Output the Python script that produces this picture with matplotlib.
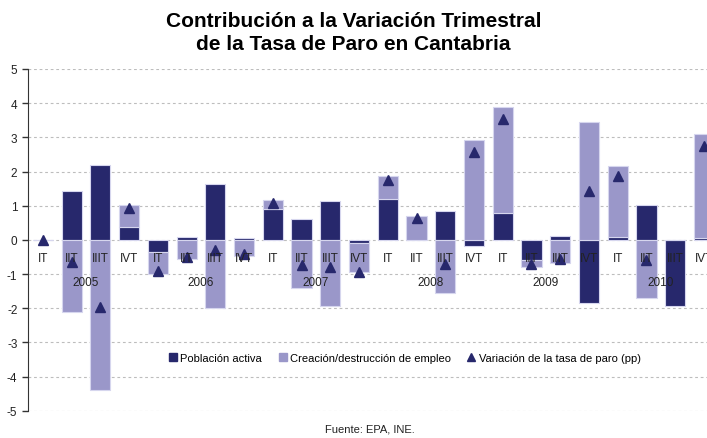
import numpy as np
import matplotlib.pyplot as plt
from matplotlib.patches import Patch
from matplotlib.lines import Line2D

plt.rcParams['font.family'] = ['Liberation Sans', 'DejaVu Sans']
plt.rcParams['axes.unicode_minus'] = False

# Datos (puntos porcentuales)
trimestres = ['IT', 'IIT', 'IIIT', 'IVT'] * 6
anios = ['2005', '2006', '2007', '2008', '2009', '2010']
poblacion = [0.00, 1.43, 2.20, 0.37, -0.36, 0.07, 1.62, 0.06,
             0.89, 0.60, 1.13, -0.10, 1.20, 0.00, 0.83, -0.19,
             0.78, -0.60, 0.11, -1.86, 0.07, 1.03, -1.94, 0.05]
empleo = [0.00, -2.12, -4.38, 0.64, -0.64, -0.56, -1.99, -0.48,
          0.29, -1.42, -1.94, -0.85, 0.66, 0.69, -1.56, 2.93,
          3.11, -0.18, -0.67, 3.45, 2.09, -1.71, 0.00, 3.05]
variacion = [0.00, -0.65, -1.97, 0.94, -0.90, -0.50, -0.30, -0.40,
             1.07, -0.75, -0.78, -0.95, 1.74, 0.63, -0.70, 2.57,
             3.53, -0.72, -0.55, 1.43, 1.86, -0.60, -1.70, 2.74]

c_osc = '#27286c'
c_cla = '#9a97c9'
borde = '#d6d6ee'

pob = np.array(poblacion)
emp = np.array(empleo)
x = np.arange(len(pob))
# apilado tipo Excel: la segunda serie se apila sobre la primera si tienen el mismo signo
base = np.where(np.sign(pob) == np.sign(emp), pob, 0)

fig = plt.figure(figsize=(7.07, 4.39), dpi=100)
ax = fig.add_axes([28.5 / 707, 1 - 411.7 / 439, 689.8 / 707, 341.7 / 439])

ax.bar(x, pob, width=0.7, color=c_osc, edgecolor=borde, linewidth=0.8, zorder=2)
ax.bar(x, emp, width=0.7, bottom=base, color=c_cla, edgecolor=borde, linewidth=0.8, zorder=2)
ax.plot(x, variacion, linestyle='none', marker='^', markersize=6.5, color=c_osc, zorder=3)

ax.set_xlim(-0.5, len(x) - 0.5)
ax.set_ylim(-5, 5)
ax.set_yticks(range(-5, 6))
ax.yaxis.grid(True, color='#bdbdbd', linestyle=(0, (2.5, 2.5)), linewidth=0.8)
ax.set_axisbelow(True)
# las etiquetas de categoria se dibujan por encima de las barras
ax.xaxis.set_zorder(5)

for s in ['top', 'right']:
    ax.spines[s].set_visible(False)
ax.spines['left'].set_color('#333333')
ax.spines['bottom'].set_position(('data', 0))
ax.spines['bottom'].set_visible(False)

ax.tick_params(axis='y', direction='out', length=4, width=1, color='#333333',
               labelsize=8.5, labelcolor='#222222', pad=4)
ax.set_xticks(x)
ax.set_xticklabels(trimestres)
ax.set_xticks(np.arange(len(anios)) * 4 + 1.5, minor=True)
ax.set_xticklabels(anios, minor=True)
ax.tick_params(axis='x', which='major', length=0, labelsize=8.5, labelcolor='#222222', pad=9)
ax.tick_params(axis='x', which='minor', length=0, labelsize=8.5, labelcolor='#222222', pad=26)

handles = [Patch(facecolor=c_osc, edgecolor=c_osc),
           Patch(facecolor=c_cla, edgecolor=c_cla),
           Line2D([], [], linestyle='none', marker='^', color=c_osc, markersize=6)]
labels = ['Población activa', 'Creación/destrucción de empleo', 'Variación de la tasa de paro (pp)']
fig.legend(handles, labels, loc='center', bbox_to_anchor=(405 / 707, 1 - 359 / 439), ncol=3,
           frameon=False, fontsize=8, handlelength=0.7, handleheight=0.7, handletextpad=0.3,
           columnspacing=1.5)

fig.text(0.5, 1 - 33 / 439, 'Contribución a la Variación Trimestral\nde la Tasa de Paro en Cantabria',
         ha='center', va='center', fontsize=15, fontweight='bold', linespacing=1.3)
fig.text(370 / 707, 1 - 430 / 439, 'Fuente: EPA, INE.', ha='center', va='center', fontsize=8,
         color='#222222')

fig.savefig('out.png', dpi=100)
